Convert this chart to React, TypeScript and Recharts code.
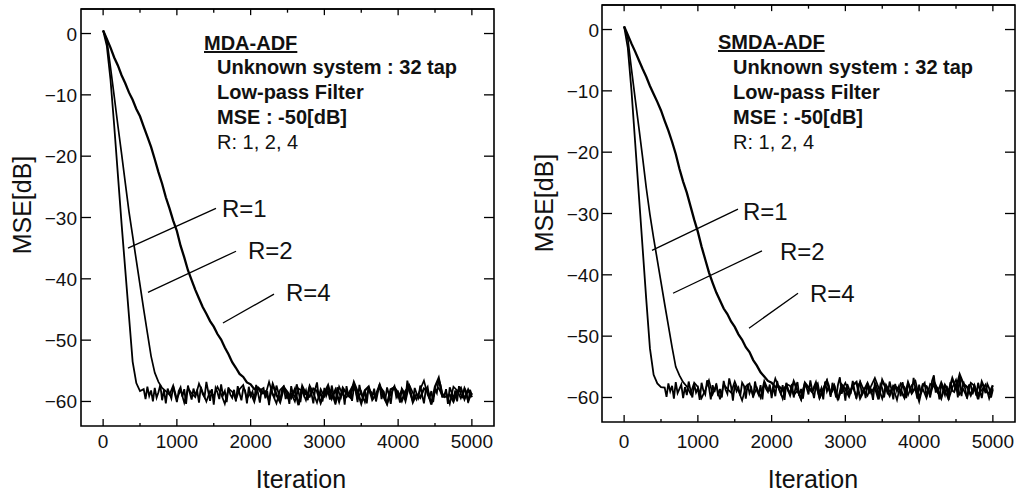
import React from 'react';
import { LineChart, Line, XAxis, YAxis, ReferenceLine, ReferenceArea } from 'recharts';

const FONT = '"Liberation Sans", Arial, Helvetica, sans-serif';
const DROP_STEP = 50; // iterations between samples while converging
const FLOOR_STEP_FINE = 25;
const FLOOR_STEP = 50;

const xTicks = [0, 500, 1000, 1500, 2000, 2500, 3000, 3500, 4000, 4500, 5000];
const yTicks = [0, -10, -20, -30, -40, -50, -60];
const xDomain = [-300, 5300];
const yDomain = [-64, 4];

// ---- MDA-ADF (left panel) ----
const mdaR1Drop = [0.5, -2, -7.5, -15, -23, -31, -38.5, -46, -53.5, -57, -58.3];
const mdaR1Floor = [
  -58.0, -59.6, -57.6, -59.1, -58.2, -60.0, -57.8, -59.4, -58.5, -57.3,
  -59.8, -58.1, -60.3, -57.9, -58.7, -59.5, -57.5, -58.9, -60.1, -58.3,
  -57.7, -59.2, -58.0, -60.4, -57.4, -58.6, -59.7, -57.9, -59.0, -58.2,
  -60.2, -57.6, -58.8, -59.3, -56.8, -58.4, -59.9, -58.0, -60.5, -57.8,
  -58.5, -59.6, -57.2, -59.0, -58.3, -60.1, -57.7, -58.9, -59.4, -58.1,
  -60.0, -57.5, -58.7, -59.8, -57.9, -58.2, -60.3, -57.6, -59.1, -58.4,
  -59.7, -57.3, -58.6, -60.2, -58.0, -57.8, -59.5, -58.3, -60.6, -57.9,
  -58.8, -59.2, -57.4, -58.5, -60.0, -58.1, -57.7, -59.6, -58.6, -60.4,
  -57.5, -58.9, -59.3, -57.2, -58.4, -60.1, -57.9, -59.0, -58.2, -59.8,
  -57.6, -58.7, -60.3, -58.0, -56.9, -59.4, -58.5, -60.0, -57.8, -59.1,
  -58.3, -59.7, -57.4, -58.9, -60.2, -57.7, -58.6, -59.3, -58.0, -60.5,
  -57.5, -59.0, -58.4, -59.9, -57.8, -58.2, -60.1, -57.3, -58.8, -59.5,
  -58.1, -60.3, -57.6, -58.7, -59.2, -57.9, -60.0, -58.5, -57.2, -59.6,
  -58.3, -59.8, -57.7, -58.9, -60.4, -58.0, -57.5, -59.3, -58.6, -60.2,
  -57.9, -58.4, -59.7, -56.6, -58.2, -59.1, -60.0, -57.8, -58.7, -59.4,
  -57.4, -58.9, -60.3, -58.1, -57.6, -59.5, -58.3, -60.1, -57.9, -58.6,
  -56.4, -57.3, -58.8, -59.2, -58.0, -60.4, -57.7, -58.5, -59.6, -58.2,
  -60.0, -57.5, -58.9, -59.3, -57.8, -58.4, -60.2, -58.1, -59.0,
];
const mdaR2Drop = [0.5, -1, -5.5, -10.2, -15, -19.6, -24.3, -29, -33, -37, -41, -45, -48.8, -52.6, -55.3, -56.8, -57.8, -58.3];
const mdaR2Floor = [
  -58.9, -57.4, -59.6, -58.1, -60.2, -57.8, -58.7, -59.3, -57.1, -58.5,
  -60.0, -58.3, -59.1, -57.6, -58.8, -60.4, -57.9, -58.4, -59.7, -58.0,
  -57.3, -59.5, -58.6, -60.1, -57.7, -58.2, -59.0, -56.8, -58.9, -60.3,
  -58.1, -57.5, -59.4, -58.7, -60.0, -57.9, -58.3, -59.8, -57.4, -58.6,
  -60.2, -58.0, -59.2, -57.8, -58.5, -60.5, -57.6, -58.9, -59.3, -58.2,
  -57.1, -59.6, -58.4, -60.1, -57.9, -58.7, -59.0, -57.5, -58.3, -60.3,
  -58.8, -57.7, -59.4, -58.1, -60.0, -57.3, -58.6, -59.7, -58.0, -56.6,
  -58.9, -60.2, -58.4, -57.8, -59.1, -58.5, -60.4, -57.6, -58.2, -59.5,
  -57.9, -60.0, -58.6,
];
const mdaR4Drop = [
  0.5, -0.9, -2.3, -3.9, -5.2, -6.8, -8.1, -9.6, -10.8, -12.3,
  -13.5, -15.2, -16.8, -18.5, -20.5, -22.6, -24.5, -26.7, -28.5, -30.5,
  -32.2, -34.6, -36.5, -38.6, -40.2, -41.8, -43.2, -44.6, -45.7, -46.9,
  -47.8, -49.0, -49.9, -51.2, -52.3, -53.6, -54.5, -55.5, -56.0, -56.9,
  -57.2, -58.0, -57.8, -58.7,
];
const mdaR4Floor = [
  -58.4, -59.8, -57.2, -58.9, -60.1, -57.7, -58.5, -59.4, -58.0, -60.6,
  -57.5, -58.8, -59.2, -57.9, -58.3, -60.2, -58.6, -57.4, -59.5, -58.1,
  -60.0, -57.8, -58.7, -59.3, -56.9, -58.4, -60.3, -58.2, -57.6, -59.7,
  -58.9, -57.3, -59.1, -60.4, -58.0, -57.7, -58.6, -59.9, -58.3, -57.5,
  -60.1, -58.8, -59.4, -57.9, -58.2, -60.5, -57.6, -56.2, -59.2, -59.2,
  -58.9, -60.0, -58.4, -57.8, -59.6, -58.1, -59.3,
];

// ---- SMDA-ADF (right panel) ----
const smdaR1Drop = [0.5, -3, -10, -18.5, -27, -35.5, -44, -52, -56.3, -57.7, -58.3];
const smdaR1Floor = [
  -58.4, -59.9, -57.7, -59.0, -58.1, -60.2, -57.5, -59.3, -58.6, -57.9,
  -60.1, -58.3, -59.6, -57.4, -58.8, -60.0, -57.8, -59.2, -58.5, -60.4,
  -57.6, -58.9, -59.5, -57.2, -58.3, -60.3, -58.0, -59.1, -57.7, -59.8,
  -58.6, -60.0, -57.3, -58.7, -59.4, -56.9, -58.2, -60.5, -57.9, -59.0,
  -58.4, -59.7, -57.6, -58.1, -60.2, -57.8, -59.3, -58.5, -60.0, -57.4,
  -58.9, -59.6, -58.0, -60.3, -57.5, -58.6, -59.1, -57.9, -60.1, -58.2,
  -59.8, -57.3, -58.7, -59.4, -58.0, -60.4, -57.6, -58.9, -59.2, -57.8,
  -60.0, -58.3, -57.5, -59.7, -58.6, -60.2, -57.9, -58.4, -59.5, -57.2,
  -58.8, -60.1, -58.1, -57.7, -59.3, -58.5, -60.3, -57.4, -59.0, -58.2,
  -59.9, -57.6, -58.7, -60.0, -57.9, -56.7, -59.4, -58.3, -60.5, -57.8,
  -58.6, -59.1, -57.3, -58.9, -60.2, -58.0, -57.5, -59.6, -58.4, -60.1,
  -57.7, -59.2, -58.8, -60.4, -57.6, -58.3, -59.7, -57.9, -58.5, -60.0,
  -58.1, -59.5, -57.4, -58.7, -60.3, -57.8, -59.0, -58.2, -59.8, -57.5,
  -58.9, -60.1, -57.7, -58.4, -59.3, -56.8, -58.6, -60.2, -57.9, -59.4,
  -58.0, -57.6, -59.9, -58.5, -60.0, -57.3, -56.4, -59.2, -58.3, -60.3,
  -57.8, -58.7, -59.6, -58.1, -60.4, -57.5, -58.9, -59.1, -57.7, -60.0,
  -56.5, -59.8, -57.4, -58.6, -60.2, -58.0, -57.9, -59.5, -58.3, -59.7,
  -57.6, -58.9, -60.1, -58.2, -59.3, -57.8, -58.5, -60.0, -58.7,
];
const smdaR2Drop = [0.5, -1.5, -6.5, -11.3, -16, -20.8, -25.8, -30.2, -34, -37.6, -41.2, -44.8, -48.3, -51.8, -55, -56.4, -57.5, -58.2];
const smdaR2Floor = [
  -59.4, -57.6, -58.3, -60.1, -58.8, -57.2, -59.5, -58.0, -60.3, -57.9,
  -58.6, -59.2, -57.4, -58.9, -60.5, -58.2, -57.7, -59.8, -58.4, -60.0,
  -57.3, -58.7, -59.1, -56.9, -58.5, -60.2, -57.8, -58.1, -59.6, -58.9,
  -60.4, -57.5, -58.3, -59.0, -57.9, -60.1, -58.6, -57.2, -59.4, -58.0,
  -60.3, -58.7, -57.6, -59.3, -58.2, -60.0, -57.4, -58.8, -59.7, -58.1,
  -56.8, -58.4, -60.2, -57.9, -59.0, -58.5, -60.4, -57.7, -58.3, -59.6,
  -58.0, -57.3, -59.9, -58.6, -60.1, -57.8, -58.2, -59.2, -57.5, -58.9,
  -60.3, -58.4, -57.1, -59.5, -58.7, -60.0, -57.6, -58.1, -59.4, -58.8,
  -57.9, -60.2, -58.5,
];
const smdaR4Drop = [
  0.5, -0.9, -2.3, -3.6, -5.0, -6.4, -7.7, -9.2, -10.5, -11.8,
  -13.2, -14.9, -16.5, -18.3, -20.3, -22.7, -24.8, -26.6, -28.8, -31.0,
  -33.0, -35.4, -37.5, -39.6, -41.3, -42.9, -44.2, -45.5, -46.4, -47.6,
  -48.5, -49.7, -50.6, -51.8, -52.6, -53.9, -54.8, -55.9, -56.6, -57.3,
  -57.6, -58.3, -58.2, -58.8,
];
const smdaR4Floor = [
  -58.1, -59.6, -57.4, -58.8, -60.2, -57.8, -58.4, -59.1, -57.6, -60.0,
  -58.7, -57.3, -59.4, -58.2, -60.4, -57.9, -58.6, -59.8, -58.0, -57.5,
  -60.1, -58.9, -57.7, -59.2, -58.3, -60.3, -57.2, -58.5, -59.7, -58.1,
  -58.4, -58.8, -60.0, -57.6, -59.3, -58.4, -60.5, -57.9, -58.2, -59.5,
  -57.4, -58.7, -60.1, -58.0, -59.0, -56.9, -58.6, -56.3, -57.8, -58.3,
  -59.6, -58.1, -60.3, -57.5, -58.9, -59.4, -58.0,
];

// leader lines: [fromIter, fromDb, toIter, toDb]
const mdaLeaders = [
  [1530, -28.5, 337, -35.0],
  [1802, -35.5, 608, -42.2],
  [2317, -42.5, 1625, -47.2],
];
const smdaLeaders = [
  [1544, -29.3, 378, -36.0],
  [1869, -36.1, 663, -43.0],
  [2358, -43.0, 1693, -48.7],
];

// drop samples every DROP_STEP, then the noise floor every floorStep
const toPoints = (drop: number[], floor: number[], floorStep: number) => {
  const start = drop.length * DROP_STEP;
  return [
    ...drop.map((v, i) => ({ iter: i * DROP_STEP, mse: v })),
    ...floor.map((v, i) => ({ iter: start + i * floorStep, mse: v })),
  ];
};

const mdaSeries = [
  { name: 'R=1', data: toPoints(mdaR1Drop, mdaR1Floor, FLOOR_STEP_FINE), w: 1.8 },
  { name: 'R=2', data: toPoints(mdaR2Drop, mdaR2Floor, FLOOR_STEP), w: 1.7 },
  { name: 'R=4', data: toPoints(mdaR4Drop, mdaR4Floor, FLOOR_STEP), w: 2.3 },
];
const smdaSeries = [
  { name: 'R=1', data: toPoints(smdaR1Drop, smdaR1Floor, FLOOR_STEP_FINE), w: 1.8 },
  { name: 'R=2', data: toPoints(smdaR2Drop, smdaR2Floor, FLOOR_STEP), w: 1.7 },
  { name: 'R=4', data: toPoints(smdaR4Drop, smdaR4Floor, FLOOR_STEP), w: 2.3 },
];

// inward tick lengths in data units (plot is ~0.0737 px per iteration, ~6.13 px per dB)
const Y_TICK_LEN = 136;
const X_TICK_MAJOR = 1.0;
const X_TICK_MINOR = 0.6;

const fmtY = (v: number) => (v < 0 ? '\u2212' + Math.abs(v) : String(v));

const BottomTick = ({ x, y, payload, labelDy }: any) => {
  const major = payload.value % 1000 === 0;
  return (
    <g>
      <line x1={x} x2={x} y1={y} y2={y - (major ? 7 : 3)} stroke="#000" strokeWidth={1.3} />
      {major && (
        <text x={x} y={y + labelDy} textAnchor="middle" fontSize={19} fontFamily={FONT} fill="#111">
          {payload.value}
        </text>
      )}
    </g>
  );
};

const LeftTick = ({ x, y, payload, labelDx }: any) => (
  <g>
    <line x1={x} x2={x + 10} y1={y} y2={y} stroke="#000" strokeWidth={1.3} />
    <text x={x - labelDx} y={y + 7} textAnchor="end" fontSize={19} fontFamily={FONT} fill="#111">
      {fmtY(payload.value)}
    </text>
  </g>
);

function Panel({ left, width, margin, yAxisWidth, xAxisHeight, series, leaders, labelDx, labelDy }: any) {
  return (
    <div style={{ position: 'absolute', left, top: 0 }}>
      <LineChart width={width} height={495} margin={margin}>
        <XAxis
          xAxisId="b" dataKey="iter" type="number" domain={xDomain} allowDataOverflow
          ticks={xTicks} interval={0} tickSize={0} tickMargin={0} tickLine={false}
          height={xAxisHeight} axisLine={false}
          tick={(p: any) => <BottomTick {...p} labelDy={labelDy} />}
        />
        <YAxis
          yAxisId="l" type="number" domain={yDomain} allowDataOverflow ticks={yTicks} interval={0}
          tickSize={0} tickMargin={0} tickLine={false} width={yAxisWidth} axisLine={false}
          tick={(p: any) => <LeftTick {...p} labelDx={labelDx} />}
        />
        <ReferenceArea
          xAxisId="b" yAxisId="l" x1={xDomain[0]} x2={xDomain[1]} y1={yDomain[0]} y2={yDomain[1]}
          fill="none" fillOpacity={0} stroke="#000" strokeWidth={1.6} ifOverflow="visible"
        />
        <ReferenceLine xAxisId="b" yAxisId="l" y={yDomain[1]} stroke="#000" strokeWidth={1.6} ifOverflow="visible" />
        {xTicks.map((t) => (
          <ReferenceLine
            key={'t' + t} xAxisId="b" yAxisId="l" ifOverflow="visible" stroke="#000" strokeWidth={1.3}
            segment={[{ x: t, y: yDomain[1] }, { x: t, y: yDomain[1] - (t % 1000 === 0 ? X_TICK_MAJOR : X_TICK_MINOR) }]}
          />
        ))}
        {yTicks.map((t) => (
          <ReferenceLine
            key={'r' + t} xAxisId="b" yAxisId="l" ifOverflow="visible" stroke="#000" strokeWidth={1.3}
            segment={[{ x: xDomain[1], y: t }, { x: xDomain[1] - Y_TICK_LEN, y: t }]}
          />
        ))}
        {series.map((s: any) => (
          <Line
            key={s.name} xAxisId="b" yAxisId="l" data={s.data} dataKey="mse" type="linear"
            stroke="#000" strokeWidth={s.w} dot={false} activeDot={false} isAnimationActive={false}
          />
        ))}
        {leaders.map((l: number[], i: number) => (
          <ReferenceLine
            key={i} xAxisId="b" yAxisId="l" ifOverflow="visible" stroke="#000" strokeWidth={1.3}
            segment={[{ x: l[0], y: l[1] }, { x: l[2], y: l[3] }]}
          />
        ))}
      </LineChart>
    </div>
  );
}

const notes = [
  // left panel
  { t: 'MDA-ADF', x: 204, y: 50, s: 20, b: true, u: true },
  { t: 'Unknown system : 32 tap', x: 217, y: 74, s: 20, b: true },
  { t: 'Low-pass Filter', x: 217, y: 99, s: 20, b: true },
  { t: 'MSE : -50[dB]', x: 217, y: 124, s: 20, b: true },
  { t: 'R: 1, 2, 4', x: 217, y: 149, s: 20 },
  { t: 'R=1', x: 222, y: 217, s: 24 },
  { t: 'R=2', x: 248, y: 259, s: 24 },
  { t: 'R=4', x: 286, y: 301, s: 24 },
  { t: 'Iteration', x: 301, y: 488, s: 25, a: 'middle' },
  // right panel
  { t: 'SMDA-ADF', x: 718, y: 49, s: 20, b: true, u: true },
  { t: 'Unknown system : 32 tap', x: 733, y: 74, s: 20, b: true },
  { t: 'Low-pass Filter', x: 733, y: 99, s: 20, b: true },
  { t: 'MSE : -50[dB]', x: 733, y: 124, s: 20, b: true },
  { t: 'R: 1, 2, 4', x: 733, y: 149, s: 20 },
  { t: 'R=1', x: 743, y: 220, s: 24 },
  { t: 'R=2', x: 780, y: 260, s: 24 },
  { t: 'R=4', x: 810, y: 302, s: 24 },
  { t: 'Iteration', x: 813, y: 488, s: 25, a: 'middle' },
];

const yTitles = [
  { x: 31, y: 205 },
  { x: 553, y: 203 },
];

export default function App() {
  return (
    <div style={{ position: 'absolute', left: 0, top: 0, width: 1019, height: 495, background: '#fff', overflow: 'hidden' }}>
      <Panel
        left={0} width={510} margin={{ top: 9, right: 16, bottom: 0, left: 0 }}
        yAxisWidth={81} xAxisHeight={69} series={mdaSeries} leaders={mdaLeaders}
        labelDx={4} labelDy={22}
      />
      <Panel
        left={510} width={509} margin={{ top: 5, right: 4, bottom: 0, left: 0 }}
        yAxisWidth={92} xAxisHeight={73} series={smdaSeries} leaders={smdaLeaders}
        labelDx={3} labelDy={26}
      />
      <svg width={1019} height={495} style={{ position: 'absolute', left: 0, top: 0, pointerEvents: 'none' }}>
        {notes.map((n: any, i) => (
          <text
            key={i} x={n.x} y={n.y} fontSize={n.s} fontFamily={FONT} fill="#111"
            fontWeight={n.b ? 'bold' : 'normal'} textAnchor={n.a || 'start'}
            textDecoration={n.u ? 'underline' : undefined}
          >
            {n.t}
          </text>
        ))}
        {yTitles.map((p, i) => (
          <text
            key={i} x={p.x} y={p.y} fontSize={25} fontFamily={FONT} fill="#111" textAnchor="middle"
            transform={`rotate(-90 ${p.x} ${p.y})`}
          >
            MSE[dB]
          </text>
        ))}
      </svg>
    </div>
  );
}
